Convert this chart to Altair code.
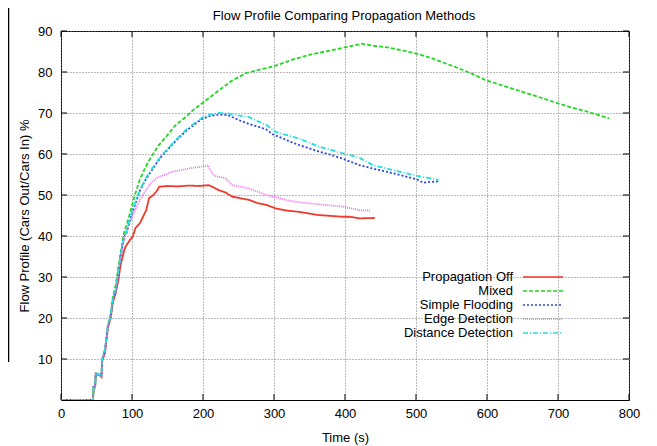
import altair as alt
import pandas as pd

FONT = "Liberation Sans"

SERIES = ["Propagation Off", "Mixed", "Simple Flooding", "Edge Detection", "Distance Detection"]
COLORS = ["#f0392a", "#22d822", "#2a44e6", "#f070f0", "#22dede"]
DASHES = [[1, 0], [4, 2], [2, 2], [1, 1], [5, 2, 1, 2]]

X_TICKS = [0, 100, 200, 300, 400, 500, 600, 700, 800]
Y_TICKS = [10, 20, 30, 40, 50, 60, 70, 80, 90]
TITLE = "Flow Profile Comparing Propagation Methods"

off_t = [0, 45, 46, 48, 49, 55, 57, 58, 62, 66, 70, 73, 77, 81, 84, 89, 91, 97, 101, 105, 111, 115, 120, 124, 130, 136,
         138, 150, 165, 180, 195, 208, 213, 222, 232, 241, 253, 265, 277, 289, 303, 318, 335, 349, 363, 380, 396, 407,
         420, 442]
off_v = [0, 0, 3, 3, 6.3, 6, 5.6, 9.5, 11.5, 17.5, 20, 23.8, 26, 29.5, 33, 36.5, 37.4, 39, 39.8, 42, 43.1, 44.5, 46.3,
         49.2, 50, 51.2, 52, 52.2, 52.1, 52.3, 52.2, 52.4, 52, 51.2, 50.6, 49.6, 49.2, 48.8, 48, 47.6, 46.7, 46.2, 45.9,
         45.5, 45.1, 44.9, 44.7, 44.7, 44.3, 44.4]

mixed_t = [0, 45, 46, 48, 49, 55, 57, 58, 62, 66, 70, 73, 77, 80, 84, 89, 93, 97, 104, 111, 119, 127, 137, 148, 160,
           176, 188, 199, 211, 223, 240, 260, 280, 300, 326, 350, 375, 400, 410, 424, 440, 460, 480, 500, 520, 540, 560,
           580, 598, 620, 640, 660, 680, 699, 720, 740, 760, 772]
mixed_v = [0, 0, 3.2, 3.2, 6.5, 6.2, 5.8, 9.8, 12.5, 18.3, 21, 25, 28, 31.5, 36, 41, 43, 45.5, 50, 53.7, 56.8, 59.3, 62,
           64.2, 66.8, 69.1, 71, 72.4, 74, 75.6, 77.8, 79.7, 80.6, 81.4, 83, 84.2, 85.1, 86, 86.4, 86.9, 86.4, 86,
           85.3, 84.5, 83.5, 82.2, 80.9, 79.5, 78, 76.8, 75.7, 74.6, 73.5, 72.4, 71.3, 70.4, 69.3, 68.7]

flood_t = [0, 45, 46, 48, 49, 55, 57, 58, 62, 66, 70, 73, 77, 80, 84, 89, 92, 100, 111, 120, 130, 141, 153, 165, 176,
           188, 199, 210, 222, 235, 250, 265, 277, 289, 298, 307, 320, 335, 349, 363, 380, 396, 420, 434, 448, 465, 486,
           500, 510, 520, 531]
flood_v = [0, 0, 3.2, 3.2, 6.5, 6.0, 5.8, 9.8, 12, 17.9, 20.3, 24.4, 26.6, 30, 35, 39.8, 40.6, 45.5, 51, 54, 56.6, 59.3,
           61.6, 63.8, 65.6, 67.2, 68.6, 69.3, 69.6, 69.5, 68.3, 67.3, 66.7, 66, 64.8, 64.2, 63.2, 62.2, 61.4, 60.6,
           59.8, 58.9, 57.3, 56.7, 56.1, 55.4, 54.5, 53.9, 53, 53.2, 53.3]

edge_t = [0, 45, 46, 48, 49, 55, 57, 58, 62, 66, 70, 73, 77, 80, 84, 89, 95, 103, 111, 119, 126, 134, 145, 157, 170,
          181, 194, 207, 213, 218, 232, 241, 253, 265, 277, 289, 302, 316, 332, 349, 370, 396, 420, 436]
edge_v = [0, 0, 3.2, 3.2, 6.5, 6.0, 5.8, 9.8, 12, 18, 20.5, 24.5, 26.6, 30.2, 35, 39.5, 42.5, 45.8, 48.8, 51, 52.8,
          54.1, 54.9, 55.7, 56.1, 56.5, 56.8, 57.2, 55.2, 54.6, 54.1, 52.4, 52, 51.6, 50.8, 50, 49.5, 48.8, 48.3, 48,
          47.6, 47.2, 46.3, 46.2]

dist_t = [0, 45, 46, 48, 49, 55, 57, 58, 62, 66, 70, 73, 77, 80, 84, 89, 92, 100, 111, 120, 130, 141, 153, 165, 176,
          188, 199, 210, 222, 235, 250, 265, 277, 289, 302, 318, 335, 349, 363, 380, 396, 420, 439, 460, 486, 510, 532]
dist_v = [0, 0, 3.2, 3.2, 6.5, 6.1, 5.9, 9.9, 12.2, 18, 20.6, 24.6, 26.8, 30.3, 35.3, 40, 41, 46, 51.2, 54.3, 56.9,
          59.5, 61.8, 64, 65.9, 67.5, 68.9, 69.6, 70, 69.9, 69.4, 69, 68, 67.1, 65.4, 64.6, 63.8, 62.8, 61.8, 61, 60.2,
          59.1, 57.3, 56.4, 55.3, 54.4, 53.7]

rows = []
for name, ts, vs in zip(SERIES, [off_t, mixed_t, flood_t, edge_t, dist_t], [off_v, mixed_v, flood_v, edge_v, dist_v]):
    for t, v in zip(ts, vs):
        rows.append({"series": name, "t": t, "v": v})
df = pd.DataFrame(rows)

W, H = 568, 369
x_scale = alt.Scale(domain=[0, 800], nice=False, zero=False)
y_scale = alt.Scale(domain=[0, 90], nice=False, zero=False)

lines = alt.Chart(df).mark_line(strokeWidth=1.8, clip=True).encode(
    x=alt.X("t:Q", scale=x_scale, title="Time (s)",
            axis=alt.Axis(values=X_TICKS, format="d", labelPadding=7, titlePadding=11, labelFlush=False)),
    y=alt.Y("v:Q", scale=y_scale, title="Flow Profile (Cars Out/Cars In) %",
            axis=alt.Axis(values=Y_TICKS, format="d", labelPadding=9, titlePadding=6, labelFlush=False)),
    color=alt.Color("series:N", scale=alt.Scale(domain=SERIES, range=COLORS), legend=None),
    strokeDash=alt.StrokeDash("series:N", scale=alt.Scale(domain=SERIES, range=DASHES), legend=None),
)

# inward tick marks on all four sides
xt = pd.DataFrame({"t": X_TICKS})
yt = pd.DataFrame({"v": Y_TICKS})
tick_layers = [
    alt.Chart(xt).mark_rule(color="black", strokeWidth=1).encode(
        x=alt.X("t:Q", scale=x_scale), y=alt.value(H), y2=alt.value(H - 6)),
    alt.Chart(xt).mark_rule(color="black", strokeWidth=1).encode(
        x=alt.X("t:Q", scale=x_scale), y=alt.value(0), y2=alt.value(6)),
    alt.Chart(yt).mark_rule(color="black", strokeWidth=1).encode(
        y=alt.Y("v:Q", scale=y_scale), x=alt.value(0), x2=alt.value(6)),
    alt.Chart(yt).mark_rule(color="black", strokeWidth=1).encode(
        y=alt.Y("v:Q", scale=y_scale), x=alt.value(W), x2=alt.value(W - 6)),
]

# legend (gnuplot style: label right-aligned, sample line to the right)
legend_layers = []
for i, name in enumerate(SERIES):
    ld = pd.DataFrame({"series": [name]})
    yy = 246 + i * 14
    legend_layers.append(
        alt.Chart(ld).mark_text(align="right", baseline="middle", fontSize=13, font=FONT, color="black").encode(
            text="series:N", x=alt.value(452), y=alt.value(yy)))
    legend_layers.append(
        alt.Chart(ld).mark_rule(strokeWidth=1.3, color=COLORS[i], strokeDash=DASHES[i]).encode(
            x=alt.value(462), x2=alt.value(502), y=alt.value(yy)))

# chart title as a text mark above the plot
title = alt.Chart(pd.DataFrame({"title": [TITLE]})).mark_text(
    align="center", baseline="alphabetic", fontSize=13, font=FONT, color="black").encode(
    text="title:N", x=alt.value(W / 2 - 1), y=alt.value(-11))

# fragment of neighbouring figure at far left
frag = alt.Chart(pd.DataFrame({"a": [0]})).mark_rule(color="black", strokeWidth=1.5).encode(
    x=alt.value(-52.5), y=alt.value(-31), y2=alt.value(331))

chart = alt.layer(lines, *tick_layers, *legend_layers, title, frag).properties(
    width=W, height=H,
    autosize=alt.AutoSizeParams(type="none"),
    padding={"left": 53, "top": 23, "right": 20, "bottom": 50},
).configure_view(stroke="black", strokeWidth=1).configure_axis(
    grid=True, gridColor="#777777", gridDash=[1, 2], gridWidth=1, domain=False, ticks=False,
    labelFont=FONT, labelFontSize=13, labelColor="black", titleFont=FONT, titleFontSize=13,
    titleFontWeight="normal", titleColor="black",
)

chart.save("out.html", embed_options={"renderer": "svg", "actions": False})
